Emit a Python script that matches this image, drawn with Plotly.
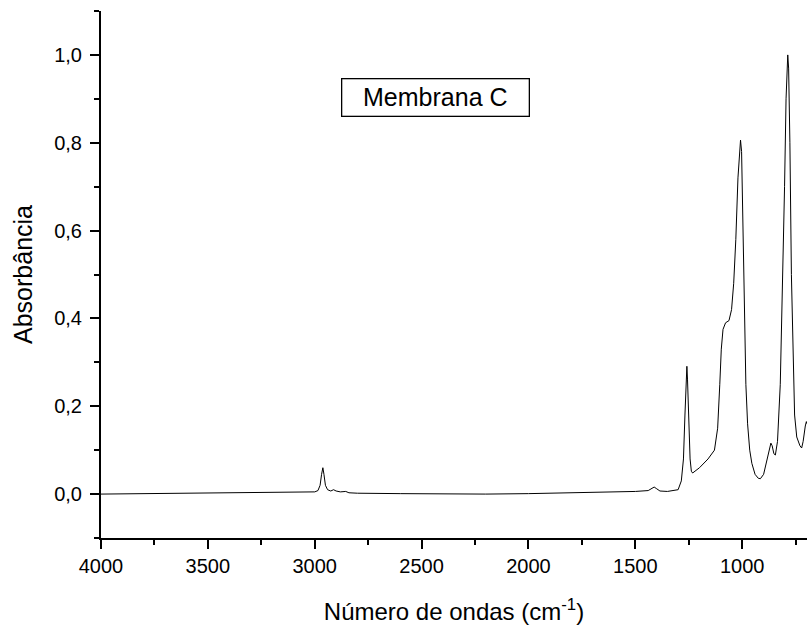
import plotly.graph_objects as go

# Wavenumber (cm-1) and absorbance
wavenumber = [4000, 3800, 3500, 3200, 3050, 3000, 2985, 2975, 2968, 2962, 2957, 2950, 2940, 2925,
              2912, 2900, 2880, 2855, 2840, 2800, 2600, 2400, 2200, 2000, 1900, 1750, 1730, 1700,
              1600, 1500, 1440, 1425, 1412, 1400, 1385, 1350, 1300, 1285, 1275, 1268, 1262, 1259,
              1256, 1250, 1244, 1238, 1232, 1200, 1160, 1130, 1115, 1105, 1098, 1090, 1078, 1062,
              1050, 1040, 1030, 1020, 1012, 1008, 1003, 996, 990, 983, 975, 965, 955, 940, 925,
              915, 900, 885, 875, 866, 860, 852, 845, 835, 822, 812, 802, 795, 790, 787, 783, 777,
              770, 762, 755, 745, 730, 722, 715, 705, 700, 697]
absorbance = [0.000, 0.001, 0.002, 0.003, 0.004, 0.005, 0.008, 0.020, 0.045, 0.060, 0.045, 0.020,
              0.010, 0.007, 0.010, 0.007, 0.005, 0.006, 0.003, 0.002, 0.001, 0.000, 0.000, 0.001,
              0.002, 0.003, 0.004, 0.003, 0.004, 0.006, 0.008, 0.012, 0.016, 0.012, 0.007, 0.006,
              0.010, 0.030, 0.080, 0.180, 0.280, 0.291, 0.260, 0.150, 0.080, 0.052, 0.048, 0.060,
              0.080, 0.100, 0.150, 0.250, 0.330, 0.375, 0.390, 0.395, 0.420, 0.480, 0.580, 0.720,
              0.800, 0.806, 0.780, 0.600, 0.400, 0.250, 0.160, 0.100, 0.070, 0.045, 0.036, 0.035,
              0.045, 0.075, 0.100, 0.116, 0.110, 0.092, 0.089, 0.120, 0.250, 0.450, 0.700, 0.900,
              0.990, 1.000, 0.970, 0.800, 0.500, 0.300, 0.180, 0.130, 0.110, 0.105, 0.120, 0.155,
              0.165, 0.160]

x_range = [4000, 697]
y_range = [-0.1, 1.1]
label_text = "Membrana C"

FONT = "Liberation Sans, Arial, sans-serif"

fig = go.Figure()
fig.add_trace(go.Scatter(x=wavenumber, y=absorbance, mode="lines",
                         line=dict(color="black", width=1), showlegend=False,
                         hoverinfo="skip"))

fig.add_annotation(x=2435, y=0.902, xref="x", yref="y", text=label_text,
                   showarrow=False, font=dict(family=FONT, size=25, color="black"),
                   bordercolor="black", borderwidth=1.3, borderpad=0,
                   width=186, height=36, bgcolor="white")

fig.update_layout(
    width=807, height=631,
    margin=dict(l=101, r=0, t=11, b=93, autoexpand=False),
    plot_bgcolor="white", paper_bgcolor="white",
    separators=",.",
    font=dict(family=FONT, color="black"),
    hovermode=False,
)
fig.update_xaxes(
    range=x_range, showgrid=False, zeroline=False, automargin=False,
    showline=True, linecolor="black", linewidth=2,
    ticks="outside", ticklen=9, tickwidth=2, tickcolor="black",
    tickmode="linear", tick0=4000, dtick=500, tickformat="d",
    tickfont=dict(family=FONT, size=20),
    minor=dict(ticks="outside", ticklen=5, tickwidth=2, tickcolor="black", dtick=250, tick0=4000),
    title=dict(text="Número de ondas (cm<sup>-1</sup>)", font=dict(family=FONT, size=24), standoff=27),
)
fig.update_yaxes(
    range=y_range, showgrid=False, zeroline=False, automargin=False,
    showline=True, linecolor="black", linewidth=2,
    ticks="outside", ticklen=9, tickwidth=2, tickcolor="black",
    tickmode="linear", tick0=0, dtick=0.2, tickformat=".1f",
    tickfont=dict(family=FONT, size=20), ticklabelstandoff=4,
    minor=dict(ticks="outside", ticklen=5, tickwidth=2, tickcolor="black", dtick=0.1, tick0=0),
    title=dict(text="Absorbância", font=dict(family=FONT, size=25), standoff=14),
)

fig.write_html(
    "out.html",
    config={"displayModeBar": False},
    post_script="document.body.style.margin='0';document.body.style.overflow='hidden';",
)
